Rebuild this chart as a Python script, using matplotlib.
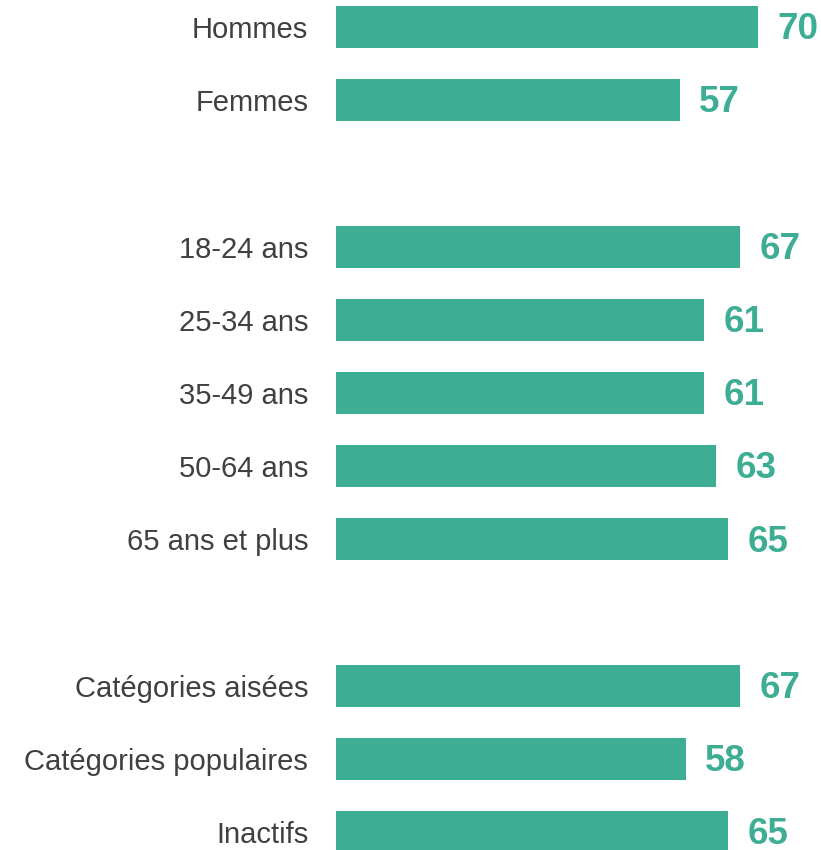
import matplotlib
matplotlib.use("Agg")
import matplotlib.pyplot as plt

plt.rcParams['font.family'] = ['Liberation Sans', 'DejaVu Sans']

categories = ["Hommes", "Femmes", "", "18-24 ans", "25-34 ans", "35-49 ans",
              "50-64 ans", "65 ans et plus", "", "Catégories aisées",
              "Catégories populaires", "Inactifs"]
values = [70, 57, None, 67, 61, 61, 63, 65, None, 67, 58, 65]

bar_color = "#3DAE94"
label_color = "#404040"

fig = plt.figure(figsize=(8.21, 8.50), dpi=100)
ax = fig.add_axes([336/821, 0, 1 - 336/821, 1])

pos = [i for i, v in enumerate(values) if v is not None]
vals = [v for v in values if v is not None]
ax.barh(pos, vals, height=0.574, color=bar_color)

for p, v in zip(pos, vals):
    ax.annotate(str(v), xy=(v, p), xytext=(14, -2), textcoords="offset points",
                ha="left", va="center", fontsize=26.5, fontweight="bold",
                color=bar_color)

ax.set_yticks(pos)
ax.set_yticklabels([categories[p] for p in pos], fontsize=21, color=label_color)
ax.tick_params(axis="y", length=0, pad=20)
ax.set_xticks([])
ax.set_xlim(0, 485/6.03)
ax.set_ylim((850-27)/73.2, -27/73.2)
for s in ax.spines.values():
    s.set_visible(False)

fig.savefig("out.png", dpi=100)
